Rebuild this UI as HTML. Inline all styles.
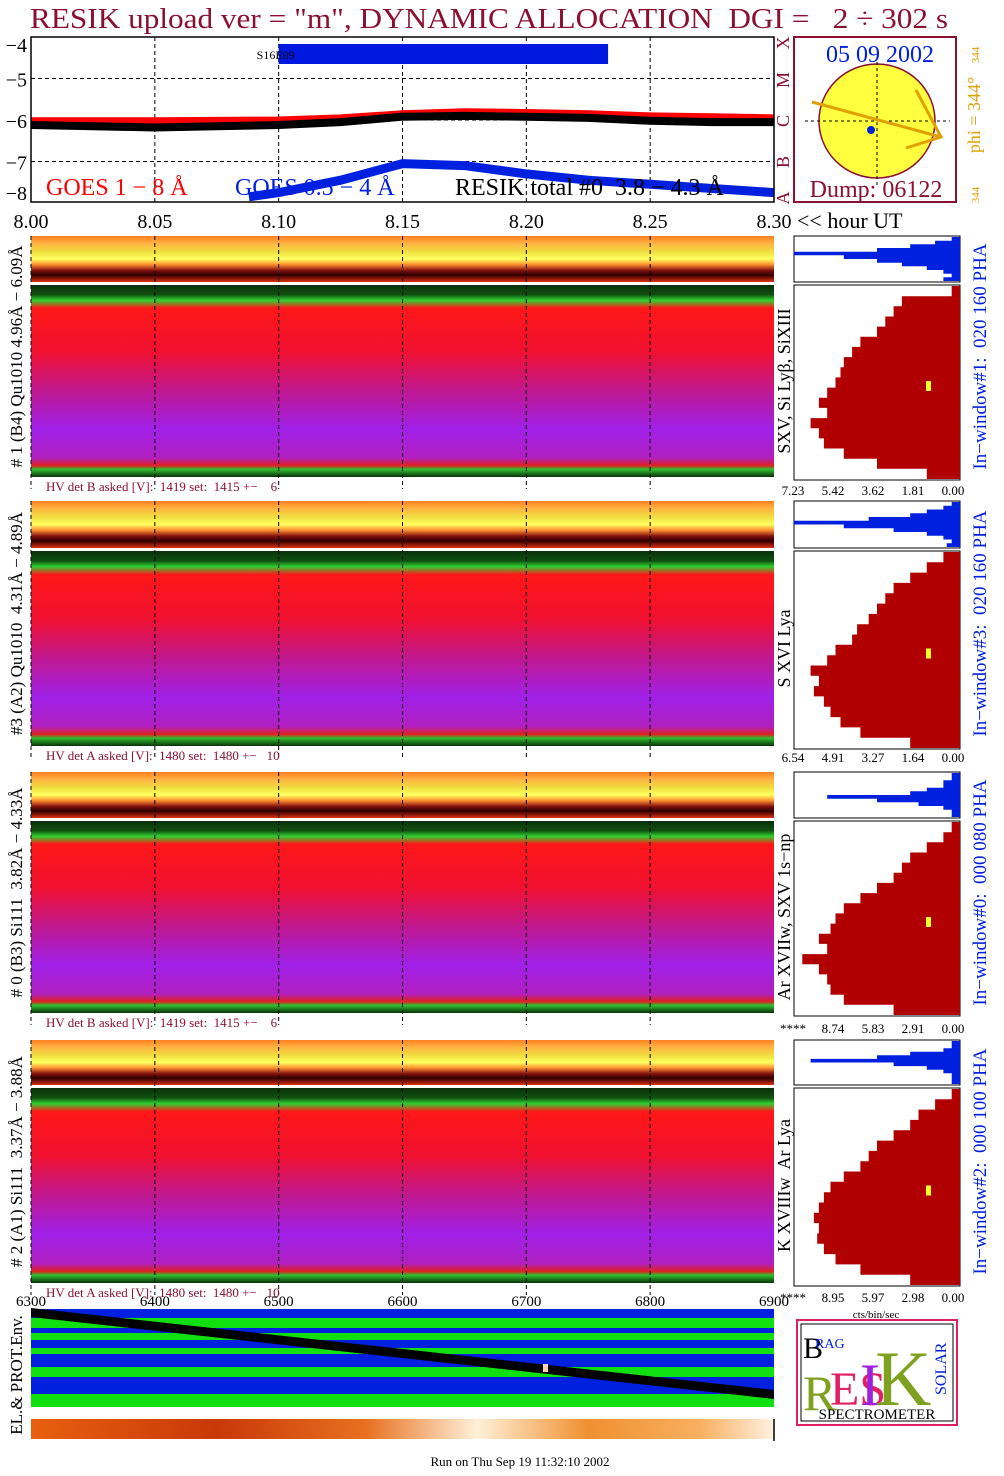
<!DOCTYPE html>
<html><head><meta charset="utf-8">
<style>
html,body{margin:0;padding:0;background:#fff;}
svg{display:block;font-family:"Liberation Serif",serif;}
text{white-space:pre;}
</style></head>
<body>
<svg id="root" width="1004" height="1476" viewBox="0 0 1004 1476" xmlns="http://www.w3.org/2000/svg">
<defs>
<linearGradient id="gTop" x1="0" y1="0" x2="0" y2="1">
<stop offset="0" stop-color="#ff8020"/><stop offset="0.15" stop-color="#ffb040"/><stop offset="0.35" stop-color="#f0e040"/><stop offset="0.5" stop-color="#ffff60"/><stop offset="0.62" stop-color="#ff9030"/><stop offset="0.75" stop-color="#801010"/><stop offset="0.85" stop-color="#300000"/><stop offset="1" stop-color="#e03010"/>
</linearGradient>
<linearGradient id="gMain" x1="0" y1="0" x2="0" y2="1">
<stop offset="0" stop-color="#0a300a"/><stop offset="0.05" stop-color="#105010"/><stop offset="0.08" stop-color="#30d030"/><stop offset="0.12" stop-color="#ff1818"/><stop offset="0.35" stop-color="#f01030"/><stop offset="0.55" stop-color="#c01890"/><stop offset="0.75" stop-color="#a020e8"/><stop offset="0.9" stop-color="#b020c0"/><stop offset="0.94" stop-color="#e02020"/><stop offset="0.96" stop-color="#30c030"/><stop offset="1" stop-color="#0a300a"/>
</linearGradient>
<linearGradient id="gStrip" x1="0" y1="0" x2="1" y2="0">
<stop offset="0" stop-color="#e86010"/><stop offset="0.25" stop-color="#c83808"/><stop offset="0.45" stop-color="#e87020"/><stop offset="0.6" stop-color="#fff0d8"/><stop offset="0.75" stop-color="#f09030"/><stop offset="0.9" stop-color="#f8b060"/><stop offset="1" stop-color="#fff0e0"/>
</linearGradient>
</defs>
<text x="30" y="28" font-size="29" fill="#8b1030" textLength="918" lengthAdjust="spacingAndGlyphs">RESIK upload ver = "m", DYNAMIC ALLOCATION  DGI =   2 ÷ 302 s</text>
<g id="topG"></g>
<g id="dial"></g>
<g id="spec"></g>
<g id="hist"></g>
<g id="env"></g>
<text x="520" y="1466" font-size="13" text-anchor="middle">Run on Thu Sep 19 11:32:10 2002</text>
</svg>
<script>
const NS="http://www.w3.org/2000/svg";
function mk(p,t,a,txt){const e=document.createElementNS(NS,t);for(const k in a)e.setAttribute(k,a[k]);if(txt!==undefined)e.textContent=txt;p.appendChild(e);return e;}

// ---------- top GOES chart data ----------
const goesTimes=[8.00,8.025,8.05,8.075,8.10,8.125,8.15,8.175,8.20,8.225,8.25,8.275,8.30];
const goesLong=[-6.02,-6.02,-6.02,-6.01,-6.0,-5.95,-5.85,-5.8,-5.82,-5.85,-5.9,-5.92,-5.95];
const resikTotal=[-6.12,-6.15,-6.18,-6.15,-6.12,-6.05,-5.92,-5.9,-5.92,-5.95,-6.02,-6.05,-6.05];
const shortTimes=[8.088,8.10,8.125,8.15,8.175,8.20,8.225,8.25,8.275,8.30];
const goesShort=[-7.85,-7.75,-7.45,-7.05,-7.1,-7.3,-7.45,-7.55,-7.65,-7.75];
const xTicks=[8.00,8.05,8.10,8.15,8.20,8.25,8.30];
const yTicks=[-4,-5,-6,-7,-8];
const X0=31,X1=774,Y0=37,Y1=202;
const tx=t=>X0+(t-8.0)/0.3*(X1-X0);
const ty=v=>120+(-6-v)*41.5;

const topG=document.getElementById('topG');
let el;
xTicks.slice(1,-1).forEach(t=>{el=mk(topG,'line',{x1:tx(t),x2:tx(t),y1:Y0,y2:Y1,stroke:'#000','stroke-dasharray':'4,3','stroke-width':1});

});
[-5,-6,-7].forEach(v=>{el=mk(topG,'line',{x1:X0,x2:X1,y1:ty(v),y2:ty(v),stroke:'#000','stroke-dasharray':'4,3','stroke-width':1});

});
el=mk(topG,'rect',{x:tx(8.10),y:44,width:tx(8.233)-tx(8.10),height:20,fill:'#0018e0'});


el=mk(topG,'text',{x:tx(8.10)-22,y:59,'font-size':12},'S16E09');


function line(ts,vs,col,w,name){const d=ts.map((t,i)=>(i?'L':'M')+tx(t).toFixed(1)+','+ty(vs[i]).toFixed(1)).join('');
const p=mk(topG,'path',{d:d,fill:'none',stroke:col,'stroke-width':w});

}
line(goesTimes,goesLong,'#ff0000',7,'goes-long-line');
line(goesTimes,resikTotal,'#000',8,'resik-total-line');
line(shortTimes,goesShort,'#0020e0',9,'goes-short-line');
el=mk(topG,'rect',{x:X0,y:Y0,width:X1-X0,height:Y1-Y0,fill:'none',stroke:'#000','stroke-width':1.5});


yTicks.forEach(v=>{el=mk(topG,'text',{x:27,y:Math.min(Math.max(ty(v)+8,52),200),'font-size':20,'text-anchor':'end'},'−'+(-v));

});
xTicks.forEach(t=>{el=mk(topG,'text',{x:tx(t),y:228,'font-size':20,'text-anchor':'middle'},t.toFixed(2));

});
el=mk(topG,'text',{x:797,y:228,'font-size':22},'<< hour UT');


[['GOES 1 − 8 Å',46,'#ff0000','legend-goes-long'],['GOES 0.5 − 4 Å',235,'#0020e0','legend-goes-short'],['RESIK total #0  3.8 − 4.3 Å',455,'#000','legend-resik-total']].forEach(a=>{
el=mk(topG,'text',{x:a[1],y:195,'font-size':24,fill:a[2]},a[0]);

});

// ---------- dial ----------
const dial=document.getElementById('dial');
el=mk(dial,'rect',{x:794,y:37,width:162,height:165,fill:'#fff',stroke:'#8b1030','stroke-width':2});


el=mk(dial,'ellipse',{cx:877,cy:121,rx:58,ry:57,fill:'#ffff40',stroke:'#8b1030','stroke-width':1.5});


mk(dial,'line',{x1:877,x2:877,y1:62,y2:185,stroke:'#000','stroke-dasharray':'3,3'});
mk(dial,'line',{x1:805,x2:950,y1:121,y2:121,stroke:'#000','stroke-dasharray':'3,3'});
el=mk(dial,'circle',{cx:871,cy:130,r:4,fill:'#0020e0'});


el=mk(dial,'path',{d:'M812,102 L941,137 M916,90 L941,137 L906,148',fill:'none',stroke:'#e0a000','stroke-width':3});


el=mk(dial,'text',{x:880,y:62,'font-size':24,fill:'#0020e0','text-anchor':'middle'},'05 09 2002');


el=mk(dial,'text',{x:876,y:197,'font-size':24,fill:'#8b1030','text-anchor':'middle'},'Dump: 06122');


[['X',43],['M',80],['C',121],['B',162],['A',198]].forEach(a=>{el=mk(dial,'text',{x:0,y:0,'font-size':18,fill:'#8b1030','text-anchor':'middle',transform:`translate(789,${a[1]}) rotate(-90)`},a[0]);

});
el=mk(dial,'text',{x:0,y:0,'font-size':18,fill:'#e0a000','text-anchor':'middle',transform:'translate(980,115) rotate(-90)'},'phi = 344°');


mk(dial,'text',{x:0,y:0,'font-size':11,fill:'#e0a000','text-anchor':'middle',transform:'translate(979,55) rotate(-90)'},'344');
mk(dial,'text',{x:0,y:0,'font-size':11,fill:'#e0a000','text-anchor':'middle',transform:'translate(979,195) rotate(-90)'},'344');

// ---------- spectrogram panels ----------
const panels=[
{t:236,s:285,b:477,hv:'HV det B asked [V]:  1419 set:  1415 +−    6',left:'# 1 (B4) Qu1010 4.96Å − 6.09Å',line:'SXV, Si Lyβ, SiXIII',win:'In−window#1:  020 160 PHA',ax:['7.23','5.42','3.62','1.81','0.00'],ay:495},
{t:501,s:551,b:746,hv:'HV det A asked [V]:  1480 set:  1480 +−   10',left:'#3 (A2) Qu1010  4.31Å − 4.89Å',line:'S XVI Lya',win:'In−window#3:  020 160 PHA',ax:['6.54','4.91','3.27','1.64','0.00'],ay:762},
{t:772,s:821,b:1013,hv:'HV det B asked [V]:  1419 set:  1415 +−    6',left:'# 0 (B3) Si111  3.82Å − 4.33Å',line:'Ar XVIIw, SXV 1s−np',win:'In−window#0:  000 080 PHA',ax:['****','8.74','5.83','2.91','0.00'],ay:1033},
{t:1040,s:1088,b:1283,hv:'HV det A asked [V]:  1480 set:  1480 +−   10',left:'# 2 (A1) Si111  3.37Å − 3.88Å',line:'K XVIIIw  Ar Lya',win:'In−window#2:  000 100 PHA',ax:['****','8.95','5.97','2.98','0.00'],ay:1302}
];
const histRed1=[0.05,0.35,0.4,0.45,0.5,0.6,0.65,0.7,0.72,0.75,0.8,0.85,0.8,0.9,0.85,0.82,0.7,0.5,0.2,0.05];
const histRed2=[0.1,0.2,0.3,0.4,0.45,0.5,0.55,0.62,0.65,0.75,0.8,0.9,0.85,0.88,0.82,0.78,0.72,0.6,0.3,0.05];
const histRed3=[0.05,0.1,0.2,0.3,0.35,0.4,0.5,0.6,0.7,0.75,0.78,0.85,0.8,0.95,0.85,0.8,0.78,0.7,0.4,0.05];
const histRed4=[0.05,0.15,0.25,0.3,0.4,0.5,0.55,0.6,0.7,0.78,0.82,0.85,0.88,0.85,0.86,0.82,0.75,0.6,0.3,0.05];
const histBlue1=[0.05,0.15,0.3,0.5,1.0,0.7,0.5,0.35,0.2,0.1,0.05,0.1,0.2];
const histBlue2=[0.05,0.1,0.2,0.3,0.55,1.0,0.7,0.4,0.2,0.1,0.05,0.08,0.1];
const histBlue3=[0.05,0.05,0.1,0.1,0.2,0.3,0.8,0.5,0.25,0.1,0.05,0.05,0.05];
const histBlue4=[0.05,0.05,0.1,0.3,0.5,0.9,0.4,0.2,0.1,0.05,0.05,0.05,0.05];
const reds=[histRed1,histRed2,histRed3,histRed4], blues=[histBlue1,histBlue2,histBlue3,histBlue4];
const specTicks=[8.00,8.05,8.10,8.15,8.20,8.25];

const spec=document.getElementById('spec'), hist=document.getElementById('hist');
const HX0=794,HX1=960;
function profile(arr,y0,y1){const n=arr.length,h=(y1-y0)/(n-1);
let d=`M${HX1},${y0}`;arr.forEach((f,i)=>{const x=HX1-f*(HX1-HX0);const y=y0+i*h;d+=`L${x.toFixed(1)},${y.toFixed(1)}`;if(i<n-1)d+=`L${x.toFixed(1)},${(y+h).toFixed(1)}`;});
return d+`L${HX1},${y1}Z`;}
panels.forEach((p,k)=>{
 el=mk(spec,'rect',{x:X0,y:p.t,width:X1-X0,height:p.s-p.t-3,fill:'url(#gTop)'});
 
 
 el=mk(spec,'rect',{x:X0,y:p.s,width:X1-X0,height:p.b-p.s,fill:'url(#gMain)'});
 
 
 specTicks.forEach(t=>{mk(spec,'line',{x1:tx(t),x2:tx(t),y1:p.t,y2:p.b+12,stroke:'#000','stroke-dasharray':'4,3'});});
 el=mk(spec,'text',{x:46,y:p.b+14,'font-size':13,fill:'#8b1030'},p.hv);
 
 
 el=mk(spec,'text',{x:0,y:0,'font-size':17,'text-anchor':'middle',transform:`translate(22,${(p.t+p.b)/2}) rotate(-90)`},p.left);
 
 
 el=mk(hist,'rect',{x:HX0,y:p.t,width:HX1-HX0,height:p.s-p.t-3,fill:'#fff',stroke:'#000'});
 
 
 el=mk(hist,'path',{d:profile(blues[k],p.t+1,p.s-4),fill:'#0020e0'});
 
 
 el=mk(hist,'rect',{x:HX0,y:p.s,width:HX1-HX0,height:p.b-p.s+3,fill:'#fff',stroke:'#000'});
 
 
 el=mk(hist,'path',{d:profile(reds[k],p.s+1,p.b+2),fill:'#b00000'});
 
 
 el=mk(hist,'rect',{x:926,y:(p.s+p.b)/2,width:5,height:10,fill:'#ffff20'});
 
 
 p.ax.forEach((s,i)=>{el=mk(hist,'text',{x:i==0&&s=='****'?793:798+i*(160/4)-5,y:p.ay,'font-size':13,'text-anchor':'middle'},s);
 
 });
 el=mk(hist,'text',{x:0,y:0,'font-size':18,'text-anchor':'middle',transform:`translate(790,${(p.s+p.b)/2}) rotate(-90)`},p.line);
 
 
 el=mk(hist,'text',{x:0,y:0,'font-size':19,fill:'#0020e0','text-anchor':'middle',transform:`translate(986,${(p.t+p.b)/2}) rotate(-90)`},p.win);
 
 
});
el=mk(hist,'text',{x:876,y:1318,'font-size':11,'text-anchor':'middle'},'cts/bin/sec');



// ---------- bottom env panel ----------
const env=document.getElementById('env');
const binTicks=[6300,6400,6500,6600,6700,6800,6900];
const bx=b=>X0+(b-6300)/600*(X1-X0);
binTicks.forEach(b=>{el=mk(env,'text',{x:bx(b),y:1306,'font-size':15,'text-anchor':'middle'},String(b));

});
const bands=[[1309,1318,'#0020e0'],[1318,1328,'#10e010'],[1328,1333,'#0020e0'],[1333,1340,'#10e010'],[1340,1348,'#0020e0'],[1348,1354,'#10e010'],[1354,1367,'#0020e0'],[1367,1377,'#10e010'],[1377,1394,'#0020e0'],[1394,1407,'#10e010']];
bands.forEach(b=>{el=mk(env,'rect',{x:X0,y:b[0],width:X1-X0,height:b[1]-b[0],fill:b[2]});

});
el=mk(env,'path',{d:`M${X0},1308 L${X1},1390 L${X1},1399 L${X0},1317Z`,fill:'#000'});


mk(env,'rect',{x:543,y:1364,width:5,height:8,fill:'#f8d0b0'});
el=mk(env,'rect',{x:X0,y:1419,width:X1-X0,height:20,fill:'url(#gStrip)'});


mk(env,'line',{x1:X1,x2:X1,y1:1419,y2:1441,stroke:'#000','stroke-width':1.5});
el=mk(env,'text',{x:0,y:0,'font-size':17,'text-anchor':'middle',transform:'translate(22,1375) rotate(-90)'},'EL.& PROT.Env.');


const lg=mk(env,'g',{});


mk(lg,'rect',{x:797,y:1320,width:160,height:105,fill:'#fff',stroke:'#e02060','stroke-width':2});
mk(lg,'rect',{x:801,y:1324,width:152,height:97,fill:'none',stroke:'#000','stroke-width':1});
mk(lg,'text',{x:803,y:1358,'font-size':30,fill:'#000'},'B');
mk(lg,'text',{x:815,y:1348,'font-size':14,fill:'#0020e0'},'RAG');
mk(lg,'text',{x:803,y:1410,'font-size':50,fill:'#80a020'},'R');
mk(lg,'text',{x:830,y:1405,'font-size':48,fill:'#e02060'},'ES');
mk(lg,'text',{x:860,y:1405,'font-size':60,fill:'#a020e0'},'I');
mk(lg,'text',{x:875,y:1405,'font-size':78,fill:'#80a020'},'K');
mk(lg,'text',{x:0,y:0,'font-size':16,fill:'#0020e0',transform:'translate(946,1395) rotate(-90)'},'SOLAR');
mk(lg,'text',{x:877,y:1419,'font-size':15,'text-anchor':'middle'},'SPECTROMETER');
</script>
</body></html>
